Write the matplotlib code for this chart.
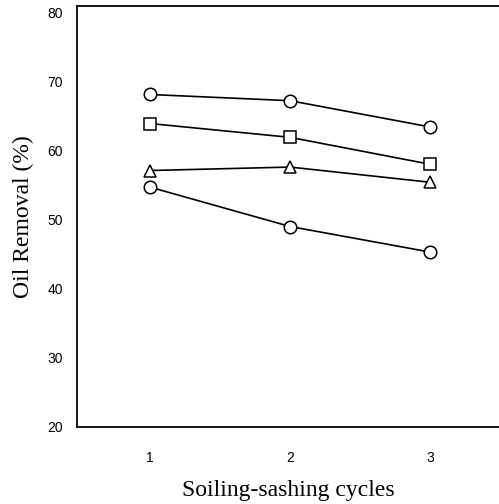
import matplotlib
matplotlib.use("Agg")
import matplotlib.pyplot as plt

cycles = [1, 2, 3]
series_circle_top = [68.1, 67.2, 63.4]
series_square = [63.9, 61.9, 58.0]
series_triangle = [57.1, 57.6, 55.4]
series_circle_bottom = [54.7, 49.0, 45.3]
y_ticks = [20, 30, 40, 50, 60, 70, 80]

fig = plt.figure(figsize=(4.99, 5.04), dpi=100)
ax = fig.add_axes([0.1543, 0.1528, 0.8457, 0.8353])

style = dict(color="black", linewidth=1.2, markerfacecolor="white",
             markeredgecolor="black", markeredgewidth=1.1)
ax.plot(cycles, series_circle_top, marker="o", markersize=9, **style)
ax.plot(cycles, series_square, marker="s", markersize=8, **style)
ax.plot(cycles, series_triangle, marker="^", markersize=8, **style)
ax.plot(cycles, series_circle_bottom, marker="o", markersize=9, **style)

ax.set_xlim(0.48, 3.49)
ax.set_ylim(20, 80.9)
ax.set_xticks(cycles)
ax.set_yticks(y_ticks)
ax.tick_params(axis="both", length=0, labelsize=10)
ax.tick_params(axis="y", pad=10)
ax.tick_params(axis="x", pad=17)
for lab in ax.get_xticklabels() + ax.get_yticklabels():
    lab.set_fontfamily("Liberation Sans")

ax.spines["right"].set_visible(False)
for s in ("left", "bottom", "top"):
    ax.spines[s].set_linewidth(1.3)

ax.set_xlabel("Soiling-sashing cycles", fontfamily="Liberation Serif",
              fontsize=17, labelpad=11)
ax.set_ylabel("Oil Removal (%)", fontfamily="Liberation Serif",
              fontsize=17, labelpad=10)

fig.savefig("out.png", dpi=100)
